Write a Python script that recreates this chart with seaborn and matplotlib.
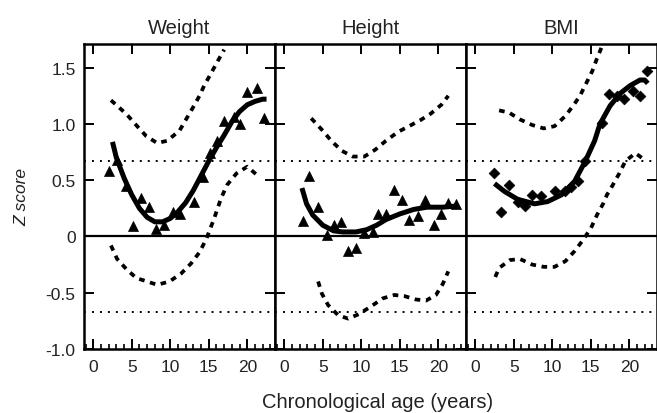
import matplotlib
matplotlib.use("Agg")
import matplotlib.pyplot as plt
import seaborn as sns
import pandas as pd
from matplotlib.ticker import MultipleLocator, FixedLocator

sns.set_theme(style="white")
plt.rcParams['font.family'] = ['Liberation Sans', 'DejaVu Sans']

panel_titles = ["Weight", "Height", "BMI"]
x_ticks = [0, 5, 10, 15, 20]
y_ticks = [-1.0, -0.5, 0, 0.5, 1.0, 1.5]
y_tick_labels = ["-1.0", "-0.5", "0", "0.5", "1.0", "1.5"]
ref_solid = 0.0
ref_dotted = [0.674, -0.674]

# ---- Weight ----
weight_pts_x = [2.1, 3.1, 4.3, 5.2, 6.2, 7.2, 8.2, 9.2, 10.3, 11.2, 13.1, 14.2, 15.2, 16.1,
                17.0, 18.3, 19.0, 20.0, 21.2, 22.2]
weight_pts_y = [0.58, 0.68, 0.45, 0.09, 0.34, 0.26, 0.07, 0.10, 0.22, 0.20, 0.31, 0.53, 0.74, 0.85,
                1.03, 1.06, 1.00, 1.28, 1.32, 1.05]
weight_fit_x = [2.5, 3.0, 4.0, 5.0, 6.0, 7.0, 8.0, 9.0, 10.0, 11.0, 12.0, 13.0, 14.0, 15.0,
                16.0, 17.0, 18.0, 19.0, 20.0, 21.0, 22.0, 22.5]
weight_fit_y = [0.84, 0.70, 0.52, 0.37, 0.25, 0.17, 0.13, 0.13, 0.16, 0.22, 0.30, 0.41, 0.54, 0.67,
                0.79, 0.90, 1.02, 1.11, 1.17, 1.20, 1.22, 1.22]
weight_up_x = [2.3, 3.3, 4.4, 5.7, 6.9, 8.3, 9.6, 11.2, 12.9, 13.8, 14.4, 15.3, 16.1, 17.0]
weight_up_y = [1.21, 1.15, 1.08, 0.98, 0.89, 0.83, 0.85, 0.94, 1.14, 1.25, 1.34, 1.45, 1.55, 1.66]
weight_lo_x = [2.3, 3.1, 4.3, 5.6, 7.0, 8.3, 9.9, 11.4, 12.7, 13.8, 14.7, 15.7, 16.6, 17.4,
               18.6, 20.0, 21.2]
weight_lo_y = [-0.08, -0.20, -0.29, -0.37, -0.40, -0.43, -0.40, -0.33, -0.24, -0.14, -0.02, 0.16,
               0.34, 0.46, 0.56, 0.62, 0.55]

# ---- Height ----
height_pts_x = [2.4, 3.2, 4.4, 5.5, 6.4, 7.4, 8.3, 9.3, 10.4, 11.5, 12.2, 13.2, 14.3, 15.3,
                16.2, 17.4, 18.3, 19.4, 20.3, 21.3, 22.3]
height_pts_y = [0.14, 0.54, 0.26, 0.01, 0.10, 0.13, -0.13, -0.10, 0.03, 0.04, 0.20, 0.20, 0.41, 0.32,
                0.15, 0.18, 0.32, 0.10, 0.20, 0.30, 0.29]
height_fit_x = [2.3, 2.9, 3.7, 5.0, 6.4, 7.6, 9.3, 10.7, 12.0, 13.2, 15.0, 16.8, 18.5, 20.6, 22.3]
height_fit_y = [0.43, 0.29, 0.19, 0.10, 0.05, 0.04, 0.04, 0.06, 0.10, 0.15, 0.20, 0.24, 0.26, 0.26, 0.27]
height_up_x = [3.5, 5.0, 6.1, 7.5, 8.9, 10.4, 11.8, 13.2, 14.8, 16.2, 17.6, 19.0, 20.4, 21.3]
height_up_y = [1.05, 0.94, 0.85, 0.76, 0.71, 0.71, 0.77, 0.85, 0.93, 0.98, 1.03, 1.09, 1.17, 1.25]
height_lo_x = [4.4, 4.9, 5.7, 7.0, 8.3, 9.7, 11.3, 12.8, 14.3, 15.6, 17.1, 18.4, 19.7, 20.6, 21.3]
height_lo_y = [-0.40, -0.51, -0.61, -0.70, -0.73, -0.69, -0.62, -0.55, -0.52, -0.53, -0.56, -0.57,
               -0.52, -0.42, -0.31]

# ---- BMI ----
bmi_pts_x = [2.4, 3.4, 4.4, 5.5, 6.4, 7.4, 8.5, 10.4, 11.6, 12.4, 13.3, 14.3, 16.5, 17.4, 18.4,
             19.3, 20.5, 21.4, 22.3]
bmi_pts_y = [0.56, 0.22, 0.46, 0.31, 0.27, 0.37, 0.36, 0.40, 0.40, 0.44, 0.49, 0.67, 1.01, 1.27, 1.25,
             1.22, 1.29, 1.25, 1.47]
bmi_fit_x = [2.5, 3.8, 5.5, 7.7, 9.4, 11.2, 12.9, 14.3, 15.5, 16.2, 17.5, 18.8, 20.1, 21.4, 22.0, 22.4]
bmi_fit_y = [0.47, 0.40, 0.33, 0.29, 0.31, 0.37, 0.49, 0.67, 0.85, 1.00, 1.16, 1.27, 1.34, 1.39, 1.39, 1.36]
bmi_up_x = [3.1, 4.4, 5.8, 7.4, 8.9, 10.3, 11.7, 12.8, 13.6, 14.4, 15.2, 15.8, 16.4]
bmi_up_y = [1.12, 1.10, 1.04, 0.99, 0.96, 0.98, 1.07, 1.17, 1.25, 1.36, 1.47, 1.58, 1.68]
bmi_lo_x = [2.6, 3.1, 4.5, 5.8, 7.4, 8.9, 10.3, 11.7, 12.9, 13.9, 15.0, 15.8, 16.6, 17.1, 17.8,
            18.7, 19.5, 20.8, 22.0]
bmi_lo_y = [-0.36, -0.28, -0.21, -0.20, -0.25, -0.27, -0.27, -0.22, -0.13, -0.04, 0.07, 0.19, 0.29,
            0.37, 0.45, 0.56, 0.67, 0.74, 0.68]

panels = [
    dict(px=weight_pts_x, py=weight_pts_y, fx=weight_fit_x, fy=weight_fit_y,
         ux=weight_up_x, uy=weight_up_y, lx=weight_lo_x, ly=weight_lo_y, marker="^", s=52),
    dict(px=height_pts_x, py=height_pts_y, fx=height_fit_x, fy=height_fit_y,
         ux=height_up_x, uy=height_up_y, lx=height_lo_x, ly=height_lo_y, marker="^", s=52),
    dict(px=bmi_pts_x, py=bmi_pts_y, fx=bmi_fit_x, fy=bmi_fit_y,
         ux=bmi_up_x, uy=bmi_up_y, lx=bmi_lo_x, ly=bmi_lo_y, marker="D", s=30),
]

W, H = 657, 414
fig = plt.figure(figsize=(W / 100, H / 100), dpi=100)
lefts = [84, 275, 466]
axes = []
dash = (0, (1.5, 1.5))
for i, (title, p) in enumerate(zip(panel_titles, panels)):
    ax = fig.add_axes([lefts[i] / W, 64 / H, 191 / W, 305 / H])
    axes.append(ax)
    ax.axhline(ref_solid, color="black", lw=1.6, zorder=1)
    for v in ref_dotted:
        ax.axhline(v, color="black", lw=1.4, linestyle=(0, (1, 3.1)), zorder=1)
    sns.lineplot(x=p["ux"], y=p["uy"], ax=ax, color="black", lw=2.7,
                 linestyle=dash, sort=False)
    sns.lineplot(x=p["lx"], y=p["ly"], ax=ax, color="black", lw=2.7,
                 linestyle=dash, sort=False)
    sns.lineplot(x=p["fx"], y=p["fy"], ax=ax, color="black", lw=3.6,
                 solid_capstyle="butt", sort=False)
    sns.scatterplot(x=p["px"], y=p["py"], ax=ax, color="black", marker=p["marker"],
                    s=p["s"], edgecolor="black", linewidth=0.5, zorder=5)
    ax.set_xlim(-1.2, 23.6)
    ax.set_ylim(-1.0, 1.71)
    ax.xaxis.set_major_locator(FixedLocator(x_ticks))
    ax.xaxis.set_minor_locator(MultipleLocator(1))
    ax.yaxis.set_major_locator(FixedLocator(y_ticks))
    ax.tick_params(which="major", direction="in", length=7, width=1.4, color="black",
                   top=True, right=True, left=True, bottom=True, labelsize=12.5,
                   labelcolor="#222222")
    ax.tick_params(axis="x", which="major", pad=7)
    ax.tick_params(axis="y", which="major", pad=6)
    ax.tick_params(axis="x", which="minor", direction="in", length=3.5, width=1.2,
                   color="black", bottom=True, top=False)
    ax.set_xticklabels([str(t) for t in x_ticks])
    if i == 0:
        ax.set_yticklabels(y_tick_labels)
    else:
        ax.set_yticklabels([])
    for sp in ax.spines.values():
        sp.set_visible(True)
        sp.set_color("black")
        sp.set_linewidth(1.8)
    ax.set_title(title, fontsize=14.5, pad=8, color="#222222")
    ax.set_xlabel("")
    ax.set_ylabel("")

axes[0].set_ylabel("Z score", fontsize=12.5, fontstyle="italic", labelpad=12, color="#222222")
fig.text(378 / W, 1 - 403 / H, "Chronological age (years)", ha="center", va="center",
         fontsize=14.5, color="#222222")

fig.savefig("out.png", dpi=100)
